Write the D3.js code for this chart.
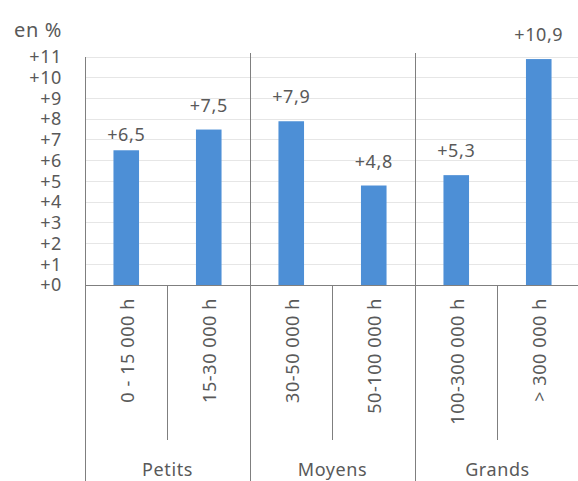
<!DOCTYPE html>
<html>
<head>
<meta charset="utf-8">
<script src="https://cdn.jsdelivr.net/npm/d3@7"></script>
<style>
  html, body { margin: 0; padding: 0; background: #fff; }
  svg { display: block; }
  text { font-family: "Noto Sans", "Open Sans", sans-serif; fill: #595959; }
</style>
</head>
<body>
<svg id="chart" width="578" height="481"></svg>
<script>
const categories = ["0 - 15 000 h", "15-30 000 h", "30-50 000 h", "50-100 000 h", "100-300 000 h", "> 300 000 h"];
const values = [6.5, 7.5, 7.9, 4.8, 5.3, 10.9];
const valueLabels = ["+6,5", "+7,5", "+7,9", "+4,8", "+5,3", "+10,9"];
const groups = ["Petits", "Moyens", "Grands"];
const groupSize = [2, 2, 2];
const yTicks = [0, 1, 2, 3, 4, 5, 6, 7, 8, 9, 10, 11];
const yTickLabels = ["+0", "+1", "+2", "+3", "+4", "+5", "+6", "+7", "+8", "+9", "+10", "+11"];
const unitLabel = "en %";

(function () {
const svg = d3.select("#chart");
const mLeft = 85, mRight = 580, mTop = 57, base = 285, mBottom = 481;
const fs = "18px", ls = "0.6px";

const x = d3.scaleBand().domain(categories).range([mLeft, mRight]).paddingInner(0.69).paddingOuter(0.345);
const y = d3.scaleLinear().domain([0, 11]).range([base, mTop]);

// gridlines
svg.append("g").selectAll("line").data(yTicks.filter(d => d > 0)).join("line")
  .attr("x1", mLeft).attr("x2", 578)
  .attr("y1", d => y(d)).attr("y2", d => y(d))
  .attr("stroke", "#e6e6e6").attr("stroke-width", 1).attr("shape-rendering", "crispEdges");

// y axis labels
const yAxis = d3.axisLeft(y).tickValues(yTicks).tickSize(0).tickPadding(23)
  .tickFormat((d, i) => yTickLabels[i]);
const gy = svg.append("g").attr("transform", `translate(${mLeft},0)`).call(yAxis);
gy.select(".domain").remove();
gy.selectAll("text").style("font-size", fs).style("letter-spacing", ls).attr("fill", "#595959")
  .style("font-family", '"Noto Sans", sans-serif');

// unit label
svg.append("text").attr("x", 14).attr("y", 37).style("font-size", "20px").style("letter-spacing", ls).text(unitLabel);

// bars
svg.append("g").selectAll("rect").data(values).join("rect")
  .attr("x", (d, i) => x(categories[i]))
  .attr("width", x.bandwidth())
  .attr("y", d => y(d))
  .attr("height", d => y(0) - y(d))
  .attr("fill", "#4d8fd6");

// value labels
svg.append("g").selectAll("text").data(values).join("text")
  .attr("x", (d, i) => x(categories[i]) + x.bandwidth() / 2)
  .attr("y", (d, i) => y(d) - (i === 0 ? 9 : 18))
  .attr("text-anchor", "middle")
  .style("font-size", fs).style("letter-spacing", ls)
  .text((d, i) => valueLabels[i]);

const step = x.step();
const stroke = "#7f7f7f";

// left axis line
svg.append("line").attr("x1", mLeft).attr("x2", mLeft).attr("y1", mTop).attr("y2", mBottom)
  .attr("stroke", stroke).attr("shape-rendering", "crispEdges");
// baseline
svg.append("line").attr("x1", mLeft).attr("x2", 578).attr("y1", base).attr("y2", base)
  .attr("stroke", stroke).attr("shape-rendering", "crispEdges");

// group separators and category separators
let idx = 0;
const groupStarts = [];
groupSize.forEach((n) => { groupStarts.push(idx); idx += n; });
groupStarts.forEach((s, gi) => {
  if (gi > 0) {
    const gx = mLeft + s * step;
    svg.append("line").attr("x1", gx).attr("x2", gx).attr("y1", mTop - 4).attr("y2", mBottom)
      .attr("stroke", stroke).attr("shape-rendering", "crispEdges");
  }
  for (let k = 1; k < groupSize[gi]; k++) {
    const cx = mLeft + (s + k) * step;
    svg.append("line").attr("x1", cx).attr("x2", cx).attr("y1", base).attr("y2", 440)
      .attr("stroke", stroke).attr("shape-rendering", "crispEdges");
  }
  svg.append("text")
    .attr("x", mLeft + (s + groupSize[gi] / 2) * step)
    .attr("y", 476)
    .attr("text-anchor", "middle")
    .style("font-size", fs).style("letter-spacing", ls)
    .text(groups[gi]);
});

// category labels (rotated)
svg.append("g").selectAll("text").data(categories).join("text")
  .attr("transform", d => `translate(${x(d) + x.bandwidth() / 2 + 1},298) rotate(-90)`)
  .attr("text-anchor", "end")
  .attr("dy", "0.35em")
  .style("font-size", fs).style("letter-spacing", ls)
  .text(d => d);
})();
</script>
</body>
</html>
